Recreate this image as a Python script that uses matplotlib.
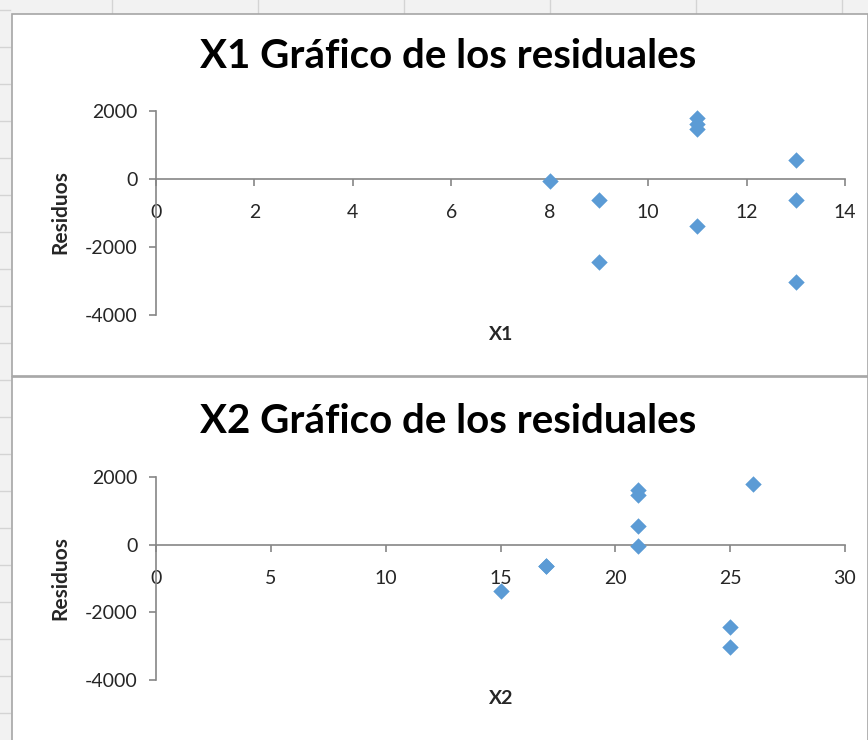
import matplotlib
matplotlib.use('Agg')
import matplotlib.pyplot as plt
from matplotlib.patches import Rectangle

# residuales del modelo, una fila por observación
x1 = [8, 9, 9, 11, 11, 11, 11, 13, 13, 13]
x2 = [21, 17, 25, 26, 21, 21, 15, 21, 17, 25]
residuos = [-50, -620, -2440, 1790, 1620, 1480, -1380, 560, -620, -3030]

x1_ticks = [0, 2, 4, 6, 8, 10, 12, 14]
x2_ticks = [0, 5, 10, 15, 20, 25, 30]
y_ticks = [-4000, -2000, 0, 2000]

W, H = 868, 740
plt.rcParams['font.family'] = ['Lato', 'DejaVu Sans']
plt.rcParams['axes.unicode_minus'] = False
fig = plt.figure(figsize=(W / 100, H / 100), dpi=100, facecolor='#f2f2f2')

# fondo tipo hoja de cálculo
for xc in [112, 258, 404, 550, 696, 842]:
    fig.add_artist(plt.Line2D([xc / W, xc / W], [1 - 0 / H, 1 - 14 / H], color='#d4d4d4', lw=1, zorder=-2))
for yr in range(10, 740, 37):
    fig.add_artist(plt.Line2D([0, 10 / W], [1 - yr / H, 1 - yr / H], color='#d4d4d4', lw=1, zorder=-2))
for top, bot in [(14, 376), (377, 745)]:
    fig.patches.append(Rectangle((12 / W, 1 - bot / H), (W - 12) / W, (bot - top) / H,
                                 transform=fig.transFigure, facecolor='white',
                                 edgecolor='#a6a6a6', lw=1.2, zorder=-1))


def residual_plot(rect, xs, xticks, xmax, title, xlabel, title_y, ylab_y, xlab_y):
    ax = fig.add_axes(rect)
    ax.set_zorder(2)
    ax.scatter(xs, residuos, marker='D', s=70, color='#5b9bd5', zorder=3, linewidths=0,
               clip_on=False)
    ax.set_xlim(0, xmax)
    ax.set_ylim(-4000, 2000)
    ax.set_xticks(xticks)
    ax.set_yticks(y_ticks)
    ax.set_facecolor('none')
    for s in ['top', 'right']:
        ax.spines[s].set_visible(False)
    ax.spines['bottom'].set_position(('data', 0))
    for s in ['left', 'bottom']:
        ax.spines[s].set_color('#868686')
        ax.spines[s].set_linewidth(1.2)
    ax.tick_params(axis='x', direction='out', length=5, width=1.2, color='#868686',
                   pad=13, labelsize=14, labelcolor='#262626')
    ax.tick_params(axis='y', direction='out', length=5, width=1.2, color='#868686',
                   pad=8, labelsize=14, labelcolor='#262626')
    fig.text(448 / W, 1 - title_y / H, title, ha='center', va='center',
             fontsize=29, fontweight='bold', color='black')
    fig.text(60 / W, 1 - ylab_y / H, 'Residuos', rotation=90, ha='center', va='center',
             fontsize=15, fontweight='bold', color='#262626')
    fig.text(501 / W, 1 - xlab_y / H, xlabel, ha='center', va='center',
             fontsize=14, fontweight='bold', color='#262626')
    return ax


residual_plot([156 / W, 1 - 315 / H, 689 / W, 204 / H], x1, x1_ticks, 14,
              'X1 Gráfico de los residuales', 'X1', 57, 212, 335)
residual_plot([156 / W, 1 - 680 / H, 689 / W, 203 / H], x2, x2_ticks, 30,
              'X2 Gráfico de los residuales', 'X2', 422, 578, 699)

plt.savefig('out.png', dpi=100, facecolor=fig.get_facecolor())
